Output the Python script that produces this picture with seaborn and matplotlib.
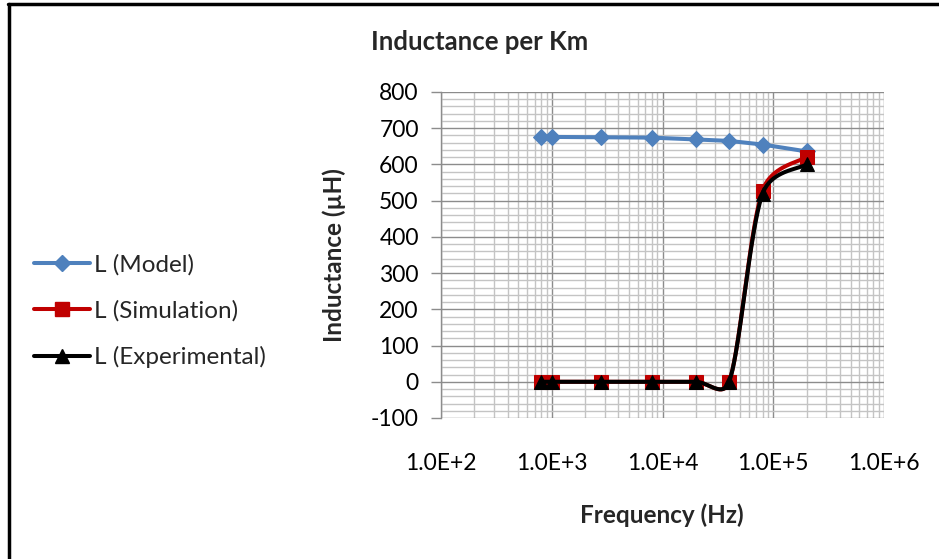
import numpy as np
import pandas as pd
import matplotlib
matplotlib.use("Agg")
import matplotlib.pyplot as plt
from matplotlib.ticker import FixedLocator, MultipleLocator, FuncFormatter, LogLocator, NullFormatter
from matplotlib.lines import Line2D
import seaborn as sns

# ---- data ----
freq = [800, 1000, 2800, 8000, 20000, 40000, 80000, 200000]
L_model = [676, 676, 675, 674, 669, 665, 655, 636]
L_sim = [0, 0, 0, 0, 0, 0, 528, 621]
L_exp = [0, 0, 0, 0, 0, 0, 519, 600]
series_names = ["L (Model)", "L (Simulation)", "L (Experimental)"]
colors = ["#4f81bd", "#c00000", "#000000"]
markers = ["D", "s", "^"]
y_ticks = [-100, 0, 100, 200, 300, 400, 500, 600, 700, 800]
x_ticks = [1e2, 1e3, 1e4, 1e5, 1e6]

sns.set_theme(style="white")
plt.rcParams["font.family"] = ["Lato", "DejaVu Sans"]
plt.rcParams["axes.unicode_minus"] = False

W, H = 939, 559
fig = plt.figure(figsize=(W / 100, H / 100), dpi=100)
ax = fig.add_axes([441 / W, 1 - 418 / H, 443 / W, 326 / H])

PX_PER_DECADE = 110.3
PX_PER_UNIT = 0.36375


def smooth(xs, ys, n=40):
    """Excel-like smoothed line: Bezier through points, computed in screen space."""
    P = np.column_stack([np.log10(xs) * PX_PER_DECADE, np.asarray(ys, float) * PX_PER_UNIT])
    out = []
    m = len(P)
    for i in range(m - 1):
        p0 = P[i]
        p3 = P[i + 1]
        pm = P[i - 1] if i > 0 else P[i]
        pp = P[i + 2] if i + 2 < m else P[i + 1]
        d = np.linalg.norm(p3 - p0)
        dprev = np.linalg.norm(p0 - pm) if i > 0 else d
        dnext = np.linalg.norm(pp - p3) if i + 2 < m else d
        f1 = np.sqrt(min(1.0, 2 * d / (d + dprev))) / 6.0
        f2 = np.sqrt(min(1.0, 2 * d / (d + dnext))) / 6.0
        c1 = p0 + (p3 - pm) * f1
        c2 = p3 - (pp - p0) * f2
        t = np.linspace(0, 1, n)[:, None]
        seg = ((1 - t) ** 3) * p0 + 3 * ((1 - t) ** 2) * t * c1 + 3 * (1 - t) * t ** 2 * c2 + t ** 3 * p3
        out.append(seg if i == 0 else seg[1:])
    S = np.vstack(out)
    return 10 ** (S[:, 0] / PX_PER_DECADE), S[:, 1] / PX_PER_UNIT


all_y = [L_model, L_sim, L_exp]
msizes = [8, 9.5, 10]
z = 3
for name, ys, c, mk, ms in zip(series_names, all_y, colors, markers, msizes):
    if name == "L (Model)":
        cx, cy = np.asarray(freq, float), np.asarray(ys, float)
    else:
        cx, cy = smooth(freq, ys)
    sns.lineplot(x=cx, y=cy, ax=ax, color=c, lw=2.9, sort=False, estimator=None, zorder=z)
    sns.lineplot(x=freq, y=ys, ax=ax, color=c, lw=0, marker=mk, markersize=ms,
                 markeredgecolor=c, markerfacecolor=c, sort=False, estimator=None, zorder=z + 1)
    z += 2

ax.set_xscale("log")
ax.set_xlim(1e2, 1e6)
ax.set_ylim(-100, 800)
ax.xaxis.set_major_locator(FixedLocator(x_ticks))
ax.xaxis.set_minor_locator(LogLocator(base=10, subs=np.arange(2, 10)))
ax.xaxis.set_minor_formatter(NullFormatter())


def efmt(v, pos):
    e = int(round(np.log10(v)))
    return f"1.0E+{e}"


ax.xaxis.set_major_formatter(FuncFormatter(efmt))
ax.yaxis.set_major_locator(FixedLocator(y_ticks))
ax.yaxis.set_minor_locator(MultipleLocator(20))

ax.grid(which="major", color="#8c8c8c", lw=1.0, zorder=0)
ax.grid(which="minor", color="#c4c4c4", lw=1.0, zorder=0)
ax.set_axisbelow(True)

for s in ["top", "right", "bottom"]:
    ax.spines[s].set_visible(False)
ax.spines["left"].set_color("#8c8c8c")
ax.spines["left"].set_linewidth(1.0)

ax.tick_params(axis="x", which="both", length=0, pad=25, labelsize=16.5, labelcolor="black")
ax.tick_params(axis="y", which="major", length=7, width=1, color="#8c8c8c", direction="out",
               pad=9, labelsize=16.5, labelcolor="black", left=True)
ax.tick_params(axis="y", which="minor", length=0)
ax.set_xlabel("")
ax.set_ylabel("")

fig.text(480 / W, 1 - 42 / H, "Inductance per Km", ha="center", va="center",
         fontsize=18.5, fontweight="bold")
fig.text(662 / W, 1 - 515 / H, "Frequency (Hz)", ha="center", va="center",
         fontsize=17.5, fontweight="bold")
fig.text(334 / W, 1 - 255 / H, "Inductance (µH)", ha="center", va="center",
         rotation=90, fontsize=17.5, fontweight="bold")

handles = [Line2D([0], [0], color=c, lw=2.9, marker=mk, markersize=ms,
                  markerfacecolor=c, markeredgecolor=c)
           for c, mk, ms in zip(colors, markers, msizes)]
fig.legend(handles, series_names, loc="center left", bbox_to_anchor=(34 / W, 1 - 311 / H),
           frameon=False, fontsize=17.5, handlelength=2.3, handletextpad=0.15,
           labelspacing=1.02, borderaxespad=0, borderpad=0)

# chart-area border (left and top edges visible)
fig.add_artist(Line2D([9 / W, 9 / W], [0, 1 - 4 / H], color="black", lw=2.5,
                      transform=fig.transFigure))
fig.add_artist(Line2D([8 / W, 1], [1 - 4 / H, 1 - 4 / H], color="black", lw=2.5,
                      transform=fig.transFigure))

fig.savefig("out.png", dpi=100)
